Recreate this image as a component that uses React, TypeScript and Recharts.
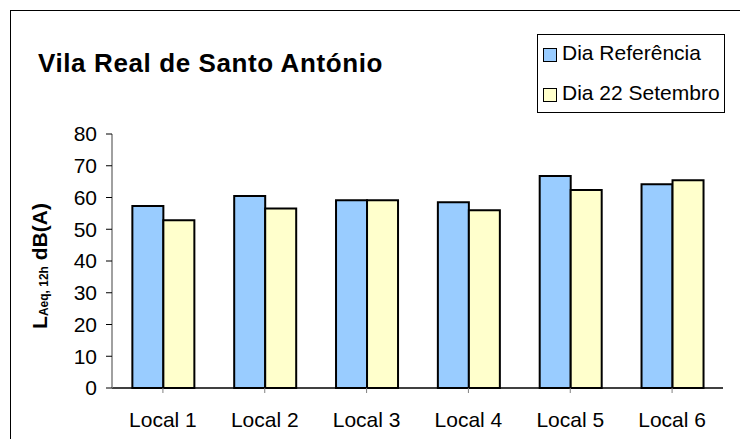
import React from 'react';
import { BarChart, Bar, XAxis, YAxis } from 'recharts';

const locais = ['Local 1', 'Local 2', 'Local 3', 'Local 4', 'Local 5', 'Local 6'];
const diaReferencia = [57.3, 60.5, 59.1, 58.5, 66.8, 64.2];
const dia22Setembro = [52.8, 56.5, 59.1, 56.0, 62.4, 65.4];
const yTicks = [0, 10, 20, 30, 40, 50, 60, 70, 80];

const series = [
    { key: 'referencia', name: 'Dia Referência', color: '#99CCFF' },
    { key: 'setembro', name: 'Dia 22 Setembro', color: '#FFFFCC' },
];

const data = locais.map((local, i) => ({
    local,
    referencia: diaReferencia[i],
    setembro: dia22Setembro[i],
}));

const FONT = '"Liberation Sans", Arial, sans-serif';

const LegendBox = () => (
    <div
        style={{
            position: 'absolute',
            left: 537,
            top: 34,
            border: '1px solid #000',
            width: 188,
            height: 79,
            boxSizing: 'border-box',
            fontFamily: FONT,
            fontSize: 21,
            background: '#fff',
        }}
    >
        {series.map((s, i) => (
            <div
                key={s.key}
                style={{
                    position: 'absolute',
                    left: 5,
                    top: i === 0 ? 4 : 44,
                    display: 'flex',
                    alignItems: 'center',
                    height: 28,
                    whiteSpace: 'nowrap',
                }}
            >
                <span
                    style={{
                        display: 'inline-block',
                        width: 12,
                        height: 12,
                        border: '1.5px solid #000',
                        background: s.color,
                        marginRight: 5,
                        marginTop: 4,
                    }}
                />
                <span>{s.name}</span>
            </div>
        ))}
    </div>
);

const YLabel = (props: any) => {
    const vb = props.viewBox || {};
    const cx = 39;
    const cy = vb.y + vb.height / 2 + 5;
    return (
        <text
            x={cx}
            y={cy}
            transform={`rotate(-90, ${cx}, ${cy})`}
            textAnchor="middle"
            dominantBaseline="central"
            fontFamily={FONT}
            fontSize={21}
            fontWeight="bold"
            fill="#000"
        >
            L
            <tspan fontSize={12} dy={5}>Aeq, 12h</tspan>
            <tspan dy={-5}> dB(A)</tspan>
        </text>
    );
};

const App: React.FC = () => {
    return (
        <div style={{ position: 'absolute', left: 0, top: 0, width: 740, height: 439, background: '#fff', overflow: 'hidden' }}>
            <div
                style={{
                    position: 'absolute',
                    left: 10,
                    top: 10,
                    width: 760,
                    height: 460,
                    borderTop: '1.5px solid #000',
                    borderLeft: '1.5px solid #000',
                }}
            />
            <div
                style={{
                    position: 'absolute',
                    left: 38,
                    top: 48,
                    fontFamily: FONT,
                    fontSize: 26,
                    letterSpacing: 0.6,
                    fontWeight: 'bold',
                    color: '#000',
                    whiteSpace: 'nowrap',
                }}
            >
                Vila Real de Santo António
            </div>
            <div style={{ position: 'absolute', left: 0, top: 0 }}>
                <BarChart
                    width={740}
                    height={439}
                    data={data}
                    margin={{ top: 134, right: 17, bottom: 21, left: 62 }}
                    barGap={0}
                    barCategoryGap="20%"
                >
                    <XAxis
                        dataKey="local"
                        axisLine={{ stroke: '#000', strokeWidth: 1.5 }}
                        tickLine={{ stroke: '#808080' }}
                        tickSize={5}
                        tickMargin={19}
                        tick={{ fill: '#000', fontSize: 21, fontFamily: FONT }}
                        interval={0}
                    />
                    <YAxis
                        domain={[0, 80]}
                        ticks={yTicks}
                        width={50}
                        axisLine={{ stroke: '#808080', strokeWidth: 1.5 }}
                        tickLine={{ stroke: '#000' }}
                        tickSize={6}
                        tickMargin={9}
                        tick={{ fill: '#000', fontSize: 21, fontFamily: FONT }}
                        label={<YLabel />}
                    />
                    {series.map((s) => (
                        <Bar
                            key={s.key}
                            dataKey={s.key}
                            name={s.name}
                            fill={s.color}
                            stroke="#000"
                            strokeWidth={2}
                            isAnimationActive={false}
                        />
                    ))}
                </BarChart>
            </div>
            <LegendBox />
        </div>
    );
};

export default App;
